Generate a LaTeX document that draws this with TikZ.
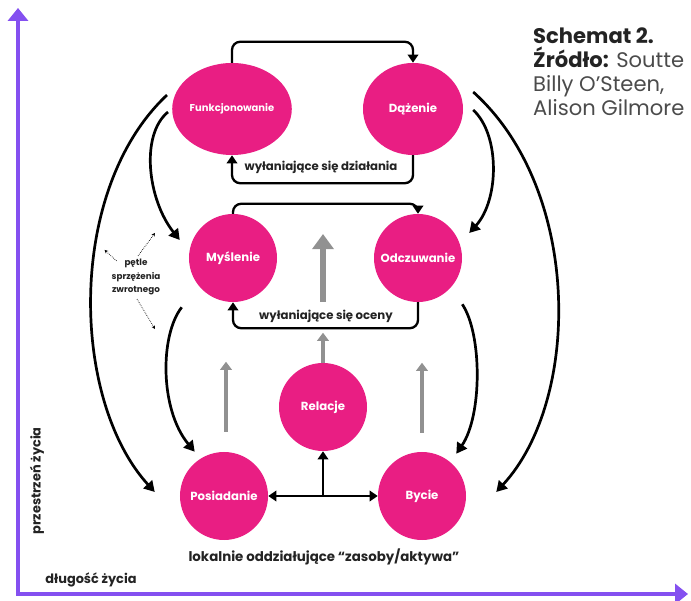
\documentclass[tikz,border=0pt]{standalone}
\usepackage{fontspec}
\setmainfont{Poppins}
\usetikzlibrary{
  positioning,
  shapes.geometric,
  arrows.meta,
  calc
}
\definecolor{lifepink}{RGB}{233,30,131}
\definecolor{axispurple}{RGB}{132,80,240}
\definecolor{risegray}{RGB}{145,145,145}
\definecolor{darktext}{RGB}{35,35,35}
\definecolor{softtext}{RGB}{75,75,75}

\begin{document}
\begin{tikzpicture}[
  x=0.03cm, y=-0.03cm,
  every node/.style={font=\bfseries\fontsize{10}{12}\selectfont, text=darktext},
  circ/.style={circle, fill=lifepink, text=white, minimum size=2.64cm, inner sep=0pt},
  oval/.style={ellipse, fill=lifepink, text=white, minimum height=2.76cm, minimum width=3cm, inner sep=0pt},
  looplabel/.style={font=\bfseries\fontsize{10}{12}\selectfont},
  note/.style={font=\bfseries\fontsize{7.5}{11.5}\selectfont, align=center},
  axislabel/.style={font=\bfseries\fontsize{11}{13}\selectfont},
  arrow/.style={line width=2pt, -{Triangle[length=7pt, width=9pt]}},
  loopline/.style={arrow, rounded corners=7pt},
  curve/.style={line width=2.3pt, -{Triangle[length=9pt, width=10pt]}},
  dots/.style={densely dotted, line width=0.6pt, -{Stealth[length=3pt, width=3pt]}},
  rise/.style={draw=risegray, line width=3pt, -{Triangle[length=7pt, width=10pt]}},
  bigrise/.style={draw=risegray, line width=5pt, -{Triangle[length=13pt, width=18pt]}},
  axis/.style={draw=axispurple, line width=4.25pt, {Triangle[length=11pt, width=17pt]}-{Triangle[length=11pt, width=17pt]}}
]
\useasboundingbox (0,0) rectangle (691,601);

% Axes
\coordinate (origin) at (18,594);
\coordinate (ytip) at (18,8);
\coordinate (xtip) at (688,594);
\draw[axis] (ytip) -- (origin) -- (xtip);
\node[axislabel, rotate=90] (space) at (37,481) {przestrzeń życia};
\node[axislabel] (length) at (91,580) {długość życia};

% Source
\node[anchor=north west, align=left, inner sep=0pt, font=\fontsize{18}{20.4}\selectfont, text=softtext] (source) at (533,28)
  {\textcolor{darktext}{\bfseries Schemat 2.}\\\textcolor{darktext}{\bfseries Źródło:} Soutte\\Billy O’Steen,\\Alison Gilmore};

% Actions
\node[oval, minimum width=3.3cm, font=\bfseries\fontsize{8.5}{10}\selectfont] (funk) at (232,109) {Funkcjonowanie};
\node[oval] (daz) at (413,109) {Dążenie};

% Ratings
\node[circ] (mys) at (233,258) {Myślenie};
\node[circ] (odc) at (418,258) {Odczuwanie};

% Assets
\node[circ] (rel) at (323,407) {Relacje};
\node[circ] (posi) at (224,496) {Posiadanie};
\node[circ] (bycie) at (422,496) {Bycie};

% Loops
\draw[loopline] (funk.north) -- ++(0,-21) -| (daz.north);
\draw[loopline] (daz.south) -- ++(0,28) -| (funk.south);
\node[looplabel] (actions) at (321,167) {wyłaniające się działania};
\draw[loopline] (mys.north) -- ++(0,-10) -| (odc.north);
\draw[loopline] (odc.south) -- ++(0,26) -| (mys.south);
\node[looplabel] (ratings) at (326,316) {wyłaniające się oceny};

% Assets links
\coordinate (mid) at ($(posi.east)!0.5!(bycie.west)$);
\draw[arrow, {Triangle[length=7pt, width=9pt]}-{Triangle[length=7pt, width=9pt]}] (posi) -- (bycie);
\draw[arrow] (mid) -- (mid |- rel.south);
\node[looplabel, font=\bfseries\fontsize{11.4}{13}\selectfont] (assets) at (324,557) {lokalnie oddziałujące “zasoby/aktywa”};

% Rising arrows
\draw[rise] (rel.north) -- ++(0,-30);
\coordinate (ocena) at (323,302);
\draw[bigrise] (ocena) -- ++(0,-68);
\draw[rise] ($(posi.north)+(2,-20)$) -- ++(0,-70);
\draw[rise] ($(bycie.north)+(0,-19)$) -- ++(0,-70);

% Feedback arrows, left
\draw[curve] ($(funk.west)+(-5,-14)$) .. controls +(-101,95) and +(-84,-92) .. ($(posi.west)+(-25,-4)$);
\draw[curve] ($(funk.west)+(-4,3)$) .. controls +(-28,23) and +(-32,-40) .. ($(mys.west)+(-9,-18)$);
\draw[curve] ($(mys.south west)+(-20,18)$) .. controls +(-22,28) and +(-35,-42) .. ($(posi.north west)+(2,-13)$);

% Feedback arrows, right
\draw[curve] ($(daz.east)+(10,-17)$) .. controls +(109,98) and +(85,-92) .. ($(bycie.east)+(30,-4)$);
\draw[curve] ($(daz.east)+(10,1)$) .. controls +(27,25) and +(30,-33) .. ($(odc.east)+(7,-25)$);
\draw[curve] ($(odc.south east)+(13,15)$) .. controls +(20,30) and +(26,-38) .. ($(bycie.north east)+(3,-11)$);

% Note
\node[note] (loopnote) at (136,277) {pętle\\sprzężenia\\zwrotnego};
\draw[dots] ($(loopnote.north)+(2,1)$) -- ++(17,-23);
\draw[dots] ($(loopnote.north west)+(9,6)$) -- ++(-12,-11);
\draw[dots] ($(loopnote.south)+(1,0)$) -- ++(18,30);

\end{tikzpicture}
\end{document}
